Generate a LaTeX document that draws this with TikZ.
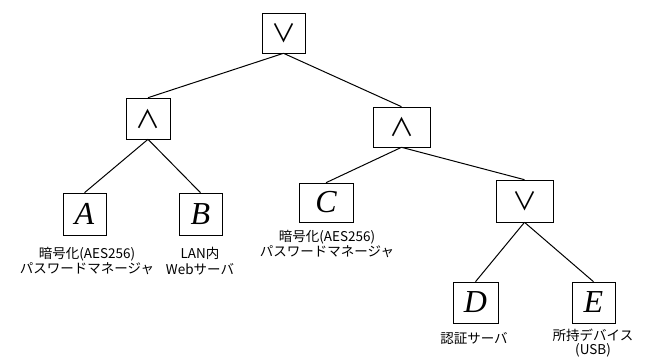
\documentclass[tikz,border=0pt]{standalone}
\usepackage{fontspec}
\setmainfont{Noto Sans CJK JP}
\newfontfamily\letfont{Liberation Serif}
\tikzset{
  opbox/.style={draw, line width=0.6pt, inner sep=0pt, font=\fontsize{25}{25}\selectfont},
  leafbox/.style={draw, line width=0.6pt, inner sep=0pt, font=\letfont\itshape\fontsize{32}{32}\selectfont},
  lbl/.style={align=center, inner sep=0pt, font=\fontsize{13.5}{15.5}\selectfont},
  lbltight/.style={align=center, inner sep=0pt, font=\fontsize{13.5}{14.5}\selectfont},
  edge/.style={line width=1pt}
}
\begin{document}
\begin{tikzpicture}[x=1pt,y=-1pt]
\useasboundingbox (0,0) rectangle (650,358);
\node[opbox, minimum width=43pt, minimum height=40pt] (top) at (283.5,33) {∨};
\node[opbox, minimum width=44pt, minimum height=41pt] (land1) at (148,118.5) {∧};
\node[opbox, minimum width=57pt, minimum height=40pt] (land2) at (401.5,127) {∧};
\node[opbox, minimum width=57pt, minimum height=42pt] (lor2) at (524.5,201) {∨};
\node[leafbox, minimum width=43pt, minimum height=42pt] (a) at (84.5,214) {A};
\node[leafbox, minimum width=43pt, minimum height=42pt] (b) at (200.5,214) {B};
\node[leafbox, minimum width=54pt, minimum height=39pt] (c) at (326,202.5) {C};
\node[leafbox, minimum width=45pt, minimum height=41pt] (d) at (475.5,302.5) {D};
\node[leafbox, minimum width=43pt, minimum height=41pt] (e) at (593.5,302.5) {E};
\node[lbl] (la) at (87,261) {暗号化(AES256)\\パスワードマネージャ};
\node[lbl] (lb) at (200,261) {LAN内\\Webサーバ};
\node[lbl] (lc) at (327,244) {暗号化(AES256)\\パスワードマネージャ};
\node[lbl] (ld) at (474,339) {認証サーバ};
\node[lbltight] (le) at (593,343) {所持デバイス\\(USB)};
\draw[edge] (top.south) -- (land1.north);
\draw[edge] (top.south) -- (land2.north);
\draw[edge] (land1.south) -- (a.north);
\draw[edge] (land1.south) -- (b.north);
\draw[edge] (land2.south) -- (c.north);
\draw[edge] (land2.south) -- (lor2.north);
\draw[edge] (lor2.south) -- (d.north);
\draw[edge] (lor2.south) -- (e.north);
\end{tikzpicture}
\end{document}
